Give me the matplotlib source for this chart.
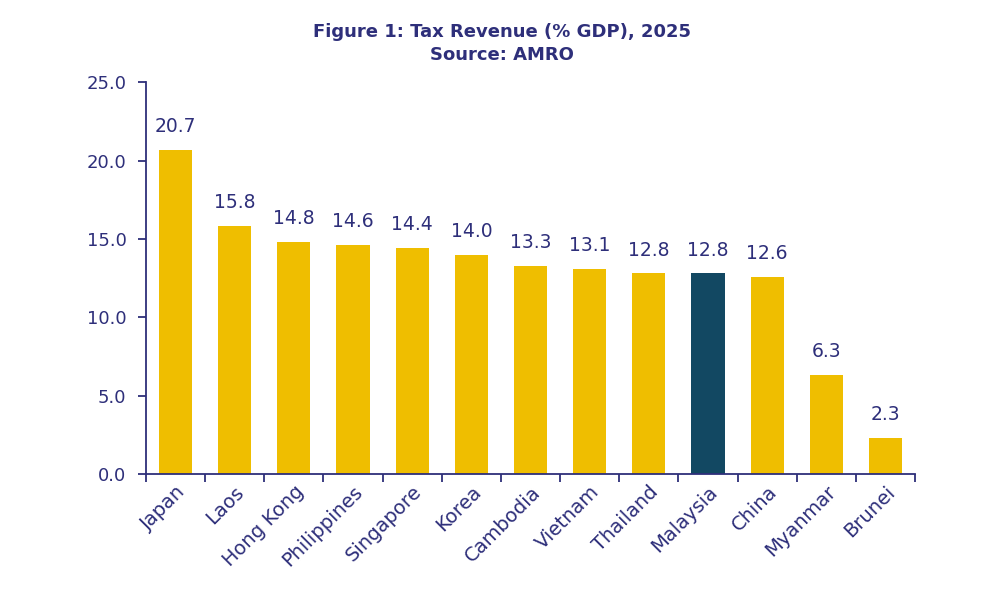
import numpy as np
import matplotlib.pyplot as plt
from matplotlib.ticker import FixedLocator

countries = ["Japan", "Laos", "Hong Kong", "Philippines", "Singapore", "Korea",
             "Cambodia", "Vietnam", "Thailand", "Malaysia", "China", "Myanmar", "Brunei"]
tax_revenue = [20.7, 15.8, 14.8, 14.6, 14.4, 14.0, 13.3, 13.1, 12.8, 12.8, 12.6, 6.3, 2.3]
highlight = "Malaysia"

gold = "#EFBE00"
teal = "#124862"
navy = "#2E2F7A"

plt.rcParams["font.family"] = ["DejaVu Sans"]

fig = plt.figure(figsize=(10, 6), dpi=100)
ax = fig.add_axes([0.146, 0.21, 0.769, 0.653])

x = np.arange(len(countries))
colors = [teal if c == highlight else gold for c in countries]
bars = ax.bar(x, tax_revenue, width=0.56, color=colors)

for xi, v in zip(x, tax_revenue):
    ax.annotate(f"{v:.1f}", (xi, v), xytext=(0, 10), textcoords="offset points",
                ha="center", va="bottom", fontsize=13.5, color=navy)

ax.set_xlim(-0.5, len(countries) - 0.5)
ax.set_ylim(0, 25)
ax.set_yticks(np.arange(0, 25.1, 5))
ax.set_yticklabels([f"{t:.1f}" for t in np.arange(0, 25.1, 5)])

ax.set_xticks(x)
ax.set_xticklabels(countries, rotation=45, ha="right", rotation_mode="anchor")
ax.xaxis.set_minor_locator(FixedLocator(np.arange(-0.5, len(countries), 1.0)))
ax.tick_params(axis="x", which="major", length=0, pad=6, labelsize=14, labelcolor=navy)
ax.tick_params(axis="x", which="minor", length=6, width=1.3, color=navy, direction="out")
ax.tick_params(axis="y", length=6, width=1.3, color=navy, labelsize=13, labelcolor=navy, pad=8)

for side in ["top", "right"]:
    ax.spines[side].set_visible(False)
for side in ["left", "bottom"]:
    ax.spines[side].set_color(navy)
    ax.spines[side].set_linewidth(1.3)

fig.text(0.502, 0.928, "Figure 1: Tax Revenue (% GDP), 2025\nSource: AMRO",
         ha="center", va="center", fontsize=13, fontweight="bold", color=navy,
         linespacing=1.35)

fig.savefig("out.png", dpi=100)
